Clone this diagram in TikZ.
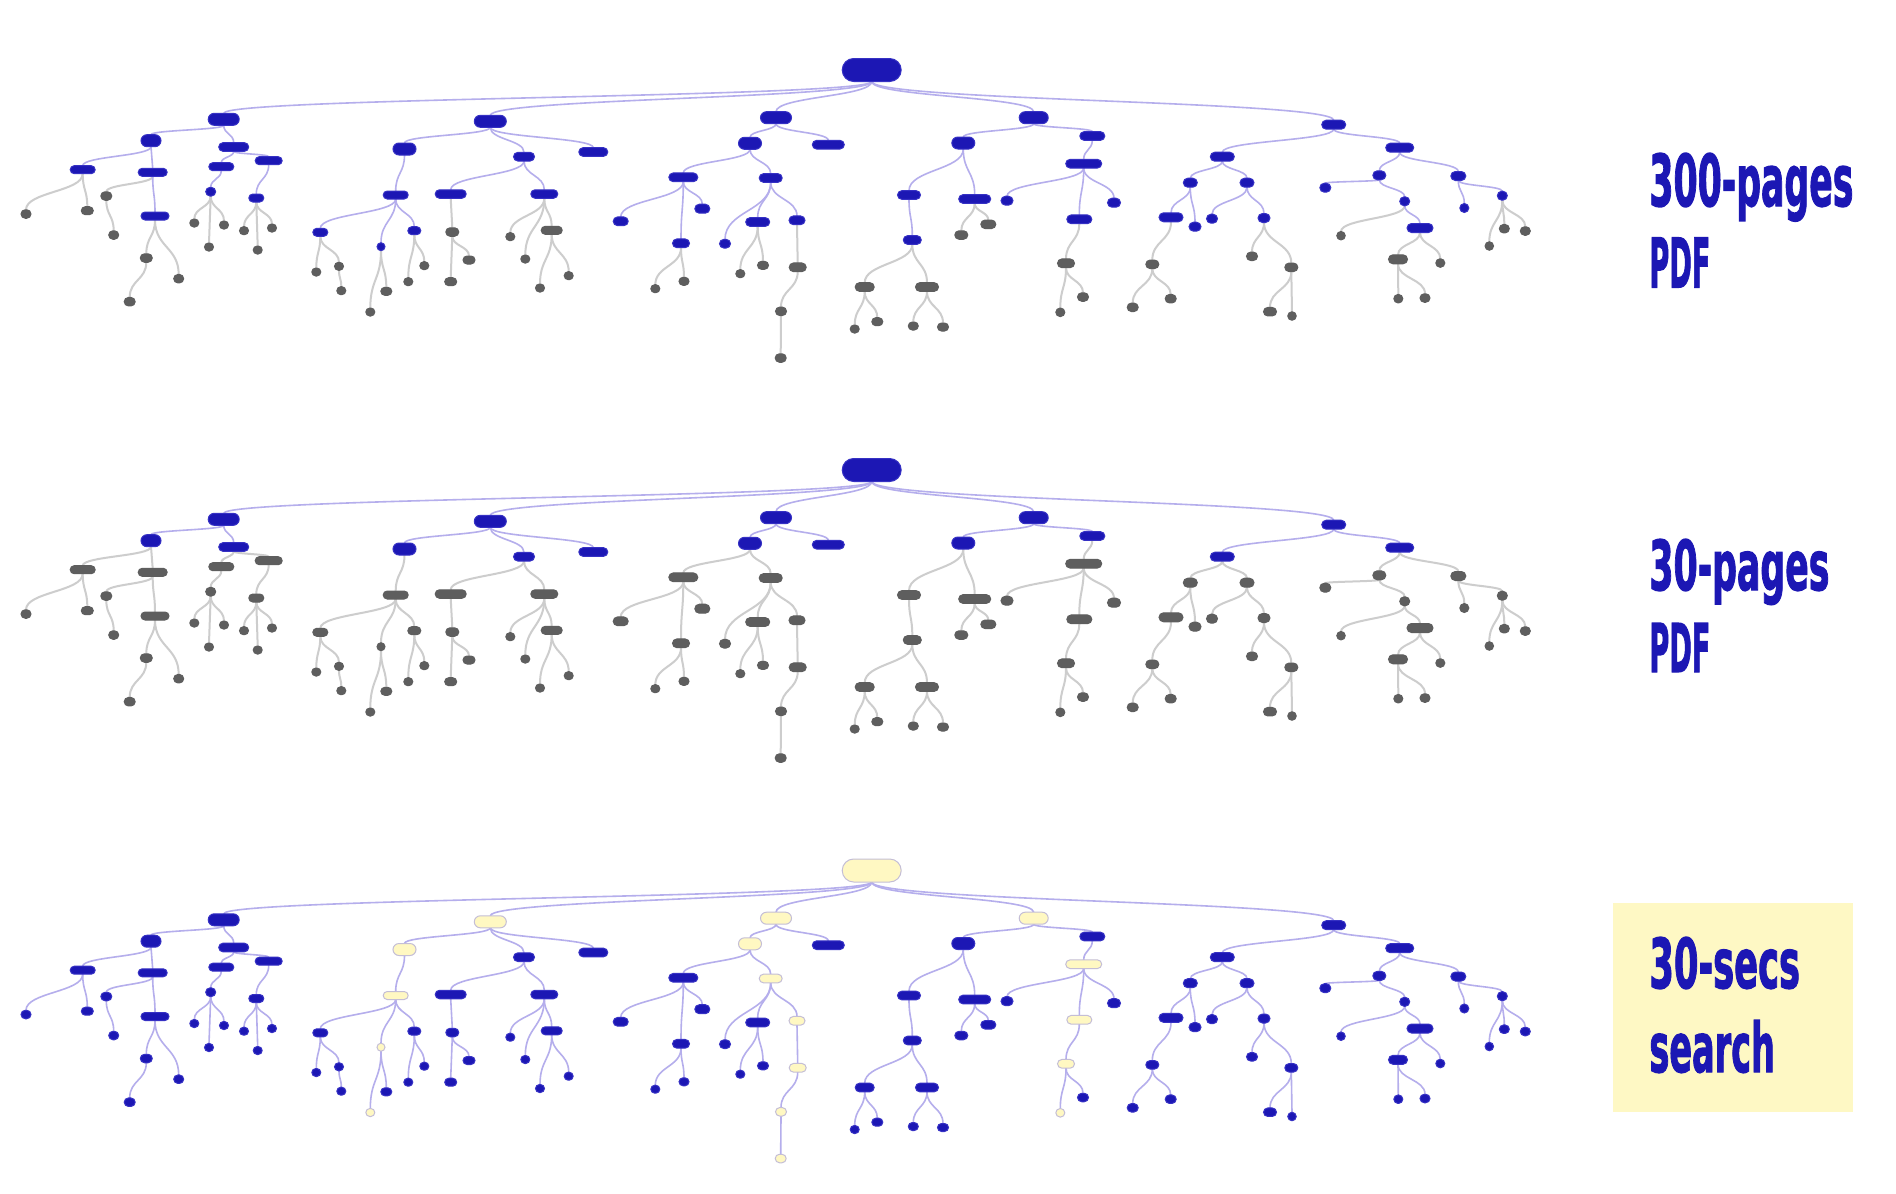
\documentclass[tikz,border=0pt]{standalone}
\usepackage{fontspec}
\usepackage{graphicx}
\usetikzlibrary{shapes.misc,calc}
\newfontfamily\labfont{DejaVu Sans}[BoldFeatures={FakeBold=2}]
\definecolor{nblue}{HTML}{1C17B4}
\definecolor{nblueb}{HTML}{3631C4}
\definecolor{ngray}{HTML}{5E5E5E}
\definecolor{nyel}{HTML}{FFF8C2}
\definecolor{nyelb}{HTML}{C4BED6}
\definecolor{epurple}{HTML}{B5AEEC}
\definecolor{egray}{HTML}{CDCDCD}
\definecolor{boxyel}{HTML}{FEF8C4}
\tikzset{
  tn/.style={rounded rectangle, inner sep=0pt, outer sep=0pt, line width=0.5pt},
  lab/.style={inner sep=0pt, anchor=base west, text=nblue, font=\labfont\bfseries},
  labbox/.style={fill=boxyel, draw=none}
}
\newcommand\setcls[1]{%
  \if#1b\def\fcol{nblue}\def\dcol{nblueb}\def\ecol{epurple}\def\ew{0.8pt}\fi
  \if#1g\def\fcol{ngray}\def\dcol{ngray}\def\ecol{egray}\def\ew{1pt}\fi
  \if#1y\def\fcol{nyel}\def\dcol{nyelb}\def\ecol{epurple}\def\ew{0.8pt}\fi}
% mode 1: place anchor nodes; mode 2: draw connectors; mode 3: draw visible nodes
% name, parent, x, y, w, h, class top, class middle, class bottom
\newcommand\nd[9]{%
  \ifcase\T\relax\or\setcls{#7}\or\setcls{#8}\or\setcls{#9}\fi
  \ifcase\md\relax\or
    \node[tn, minimum width=#5*0.5pt, minimum height=#6*0.5pt] (T\T#1) at (#3,{#4+\dy}) {};
  \or
    \ifx\relax#2\relax\else
      \draw[line width=\ew, draw=\ecol] (T\T#2.south) .. controls ($(T\T#2.south)!0.5!(T\T#2.south|-T\T#1.north)$) and ($(T\T#1.north)!0.5!(T\T#1.north|-T\T#2.south)$) .. (T\T#1.north);
    \fi
  \or
    \node[tn, fill=\fcol, draw=\dcol, minimum width=#5*0.5pt, minimum height=#6*0.5pt] (V\T#1) at (T\T#1) {};
  \fi}
\newcommand\alltree{%
\nd{R}{}{871.7}{70}{59}{23}{b}{b}{y}
\nd{A}{R}{223.7}{119.3}{31}{12}{b}{b}{b}
\nd{B}{R}{490.3}{121.3}{32}{12}{b}{b}{y}
\nd{C}{R}{776}{117.7}{31}{12}{b}{b}{y}
\nd{D}{R}{1033.7}{117.7}{29}{12}{b}{b}{y}
\nd{E}{R}{1333.7}{124.7}{24}{9}{b}{b}{b}
\nd{A1}{A}{151}{140.7}{20}{12}{b}{b}{b}
\nd{A2}{A}{233.7}{147}{30}{8.7}{b}{b}{b}
\nd{B1}{B}{404.5}{149}{23}{12}{b}{b}{y}
\nd{B2}{B}{524}{156.7}{21}{8.7}{b}{b}{b}
\nd{B3}{B}{593.3}{152}{29}{8.7}{b}{b}{b}
\nd{C1}{C}{750}{143.3}{23}{12}{b}{b}{y}
\nd{C2}{C}{828.3}{144.7}{32}{8.7}{b}{b}{b}
\nd{D1}{D}{963.3}{143}{23}{12}{b}{b}{b}
\nd{D2}{D}{1092.3}{136}{25}{8.7}{b}{b}{b}
\nd{E1}{E}{1222.3}{156.7}{24}{9}{b}{b}{b}
\nd{E2}{E}{1399.7}{147.7}{28}{9}{b}{b}{b}
\nd{A1a}{A1}{82.7}{169.7}{25}{8}{b}{g}{b}
\nd{A1b}{A1}{152.7}{172.3}{29}{8}{b}{g}{b}
\nd{A1a1}{A1a}{26}{214}{10}{8.5}{g}{g}{b}
\nd{A1a2}{A1a}{87.3}{210.7}{12}{8}{g}{g}{b}
\nd{A1b1}{A1b}{106.3}{196}{11}{8.5}{g}{g}{b}
\nd{A1b1a}{A1b1}{113.7}{235}{10}{8.5}{g}{g}{b}
\nd{A1b2}{A1b}{155}{216}{28}{8}{b}{g}{b}
\nd{A1b2a}{A1b2}{146.3}{258}{12}{8.5}{g}{g}{b}
\nd{A1b2a1}{A1b2a}{129.7}{301.7}{11}{8.5}{g}{g}{b}
\nd{A1b2b}{A1b2}{178.7}{278.7}{10}{8.5}{g}{g}{b}
\nd{A2a}{A2}{221.3}{166.7}{25}{8}{b}{g}{b}
\nd{A2b}{A2}{268.7}{160.7}{27}{8}{b}{g}{b}
\nd{A2a1}{A2a}{210.7}{191.7}{10}{8.7}{b}{g}{b}
\nd{A2a1a}{A2a1}{194.3}{223}{9}{8}{g}{g}{b}
\nd{A2a1b}{A2a1}{209}{247}{9}{8}{g}{g}{b}
\nd{A2a1c}{A2a1}{224}{225}{9}{8}{g}{g}{b}
\nd{A2b1}{A2b}{256.3}{198}{15}{8}{b}{g}{b}
\nd{A2b1a}{A2b1}{244}{230.7}{9}{8}{g}{g}{b}
\nd{A2b1b}{A2b1}{257.7}{250}{9}{8}{g}{g}{b}
\nd{A2b1c}{A2b1}{272}{228}{9}{8}{g}{g}{b}
\nd{B1a}{B1}{395.7}{195}{25}{8}{b}{g}{y}
\nd{B1a1}{B1a}{320.3}{232.3}{15}{8}{b}{g}{b}
\nd{B1a2}{B1a}{381}{246.7}{8}{8}{b}{g}{y}
\nd{B1a3}{B1a}{414.3}{230.7}{13}{8}{b}{g}{b}
\nd{B1a1a}{B1a1}{316.3}{272}{9}{8}{g}{g}{b}
\nd{B1a1b}{B1a1}{339}{266.3}{9}{8}{g}{g}{b}
\nd{B1a1b1}{B1a1b}{341.3}{290.7}{9}{8}{g}{g}{b}
\nd{B1a2a}{B1a2}{370.3}{312}{9}{8}{g}{g}{y}
\nd{B1a2b}{B1a2}{386.3}{291.3}{11}{8}{g}{g}{b}
\nd{B1a3a}{B1a3}{408.3}{281.7}{9}{8}{g}{g}{b}
\nd{B1a3b}{B1a3}{424.3}{265.7}{9}{8}{g}{g}{b}
\nd{B2a}{B2}{450.7}{194}{31}{8.5}{b}{g}{b}
\nd{B2b}{B2}{544.3}{194}{27}{8.5}{b}{g}{b}
\nd{B2a1}{B2a}{452.3}{232}{13}{8.5}{g}{g}{b}
\nd{B2a1a}{B2a1}{450.7}{281.7}{12}{8}{g}{g}{b}
\nd{B2a1b}{B2a1}{469}{260}{12}{8}{g}{g}{b}
\nd{B2b1}{B2b}{510.3}{236.7}{9}{8}{g}{g}{b}
\nd{B2b2}{B2b}{525.3}{259}{9}{8}{g}{g}{b}
\nd{B2b3}{B2b}{551.7}{230.3}{21}{8}{g}{g}{b}
\nd{B2b3a}{B2b3}{540}{288}{9}{8}{g}{g}{b}
\nd{B2b3b}{B2b3}{568.7}{275.7}{9}{8}{g}{g}{b}
\nd{C1a}{C1}{683.3}{177.3}{29}{8.7}{b}{g}{b}
\nd{C1b}{C1}{770.7}{178}{23}{8.7}{b}{g}{y}
\nd{C1a1}{C1a}{620.7}{221.3}{15}{8.7}{b}{g}{b}
\nd{C1a2}{C1a}{681}{243.3}{17}{8.7}{b}{g}{b}
\nd{C1a3}{C1a}{702.3}{208.7}{15}{9}{b}{g}{b}
\nd{C1a2a}{C1a2}{655.3}{288.7}{9}{8}{g}{g}{b}
\nd{C1a2b}{C1a2}{684}{281.3}{10}{8}{g}{g}{b}
\nd{C1b1}{C1b}{725}{243.7}{11}{8.7}{b}{g}{b}
\nd{C1b2}{C1b}{757.7}{222}{24}{8.7}{b}{g}{b}
\nd{C1b3}{C1b}{797}{220.3}{16}{8.7}{b}{g}{y}
\nd{C1b2a}{C1b2}{740.3}{273.7}{9}{8}{g}{g}{b}
\nd{C1b2b}{C1b2}{763}{265.3}{11}{8}{g}{g}{b}
\nd{C1b3a}{C1b3}{797.7}{267.3}{17}{8.7}{g}{g}{y}
\nd{C1b3a1}{C1b3a}{781}{311.3}{11}{8.5}{g}{g}{y}
\nd{C1b3a1a}{C1b3a1}{780.7}{358}{11}{8.5}{g}{g}{y}
\nd{D1a}{D1}{909}{195}{23}{8.7}{b}{g}{b}
\nd{D1b}{D1}{974.7}{199}{32}{8.7}{b}{g}{b}
\nd{D1a1}{D1a}{912.3}{240}{18}{8.7}{b}{g}{b}
\nd{D1a1a}{D1a1}{864.7}{287}{19}{8.7}{g}{g}{b}
\nd{D1a1b}{D1a1}{927}{287}{23}{8.7}{g}{g}{b}
\nd{D1a1a1}{D1a1a}{854.7}{329}{9}{8}{g}{g}{b}
\nd{D1a1a2}{D1a1a}{877.3}{321.7}{11}{8}{g}{g}{b}
\nd{D1a1b1}{D1a1b}{913.3}{326}{10}{8}{g}{g}{b}
\nd{D1a1b2}{D1a1b}{943}{327}{11}{8}{g}{g}{b}
\nd{D1b1}{D1b}{961.3}{235}{13}{8.5}{g}{g}{b}
\nd{D1b2}{D1b}{988.3}{224.3}{15}{8.5}{g}{g}{b}
\nd{D2a}{D2}{1083.7}{163.7}{36}{8.7}{b}{g}{y}
\nd{D2a1}{D2a}{1007}{200.7}{12}{9}{b}{g}{b}
\nd{D2a2}{D2a}{1079.3}{219.3}{25}{8.7}{b}{g}{y}
\nd{D2a3}{D2a}{1114}{202.7}{13}{9}{b}{g}{b}
\nd{D2a2a}{D2a2}{1066}{263.3}{17}{8.7}{g}{g}{y}
\nd{D2a2a1}{D2a2a}{1060.3}{312.3}{9}{8.5}{g}{g}{y}
\nd{D2a2a2}{D2a2a}{1083}{297}{11}{8.5}{g}{g}{b}
\nd{E1a}{E1}{1190.3}{182.7}{14}{9}{b}{g}{b}
\nd{E1b}{E1}{1247}{182.7}{14}{9}{b}{g}{b}
\nd{E1a1}{E1a}{1171}{217.3}{24}{9}{b}{g}{b}
\nd{E1a2}{E1a}{1195}{226.7}{12}{9}{b}{g}{b}
\nd{E1a1a}{E1a1}{1152.3}{264.3}{13}{8.5}{g}{g}{b}
\nd{E1a1a1}{E1a1a}{1132.7}{307.3}{11}{8.5}{g}{g}{b}
\nd{E1a1a2}{E1a1a}{1170.7}{298.7}{11}{8.5}{g}{g}{b}
\nd{E1b1}{E1b}{1212}{218.7}{11}{9}{b}{g}{b}
\nd{E1b2}{E1b}{1264}{218}{12}{9}{b}{g}{b}
\nd{E1b2a}{E1b2}{1252}{256.3}{11}{8.5}{g}{g}{b}
\nd{E1b2b}{E1b2}{1291.3}{267.3}{13}{8.5}{g}{g}{b}
\nd{E1b2b1}{E1b2b}{1270}{311.7}{13}{8.5}{g}{g}{b}
\nd{E1b2b2}{E1b2b}{1292}{316}{8.5}{8.5}{g}{g}{b}
\nd{E2a}{E2}{1379.3}{175.3}{13}{9}{b}{g}{b}
\nd{E2b}{E2}{1458.3}{176}{15}{9}{b}{g}{b}
\nd{E2a1}{E2a}{1325.3}{187.7}{11}{9}{b}{g}{b}
\nd{E2a2}{E2a}{1404.7}{201.3}{10}{9}{b}{g}{b}
\nd{E2a2a}{E2a2}{1341}{235.7}{8.5}{8.5}{g}{g}{b}
\nd{E2a2b}{E2a2}{1420}{228}{26}{9}{b}{g}{b}
\nd{E2a2b1}{E2a2b}{1398}{259.3}{19}{9}{g}{g}{b}
\nd{E2a2b2}{E2a2b}{1440.3}{263}{9}{8.5}{g}{g}{b}
\nd{E2a2b1a}{E2a2b1}{1398.3}{298.7}{9}{8.5}{g}{g}{b}
\nd{E2a2b1b}{E2a2b1}{1425}{298}{10}{8.5}{g}{g}{b}
\nd{E2b1}{E2b}{1464.3}{208}{9}{9}{b}{g}{b}
\nd{E2b2}{E2b}{1502.3}{195.7}{10}{9}{b}{g}{b}
\nd{E2b2a}{E2b2}{1489.3}{246}{8.5}{8.5}{g}{g}{b}
\nd{E2b2b}{E2b2}{1504.3}{228.7}{10}{8.5}{g}{g}{b}
\nd{E2b2c}{E2b2}{1525.3}{231}{10}{8.5}{g}{g}{b}
}
\newcommand\drawtree[2]{%
  \def\T{#1}\def\dy{#2}%
  \def\md{1}\alltree
  \def\md{2}\alltree
  \def\md{3}\alltree}
\begin{document}
\begin{tikzpicture}[x=0.5pt,y=-0.5pt]
\useasboundingbox (0,0) rectangle (1896,1194);
\fill[white] (0,0) rectangle (1896,1194);
\drawtree{1}{0}
\drawtree{2}{400}
\drawtree{3}{800.5}
% labels
\node[lab] (l1a) at (1649,206) {\resizebox{102pt}{26.5pt}{300-pages}};
\node[lab] (l1b) at (1649,287.5) {\resizebox{30.5pt}{25pt}{PDF}};
\node[lab] (l2a) at (1649,590) {\resizebox{90pt}{25.5pt}{30-pages}};
\node[lab] (l2b) at (1649,672) {\resizebox{30.5pt}{24.5pt}{PDF}};
\fill[labbox] (1613.3,902.7) rectangle (1852.7,1111.7);
\node[lab] (l3a) at (1649,988) {\resizebox{75.3pt}{25.5pt}{30-secs}};
\node[lab] (l3b) at (1649,1072) {\resizebox{62.8pt}{26pt}{search}};
\end{tikzpicture}
\end{document}
